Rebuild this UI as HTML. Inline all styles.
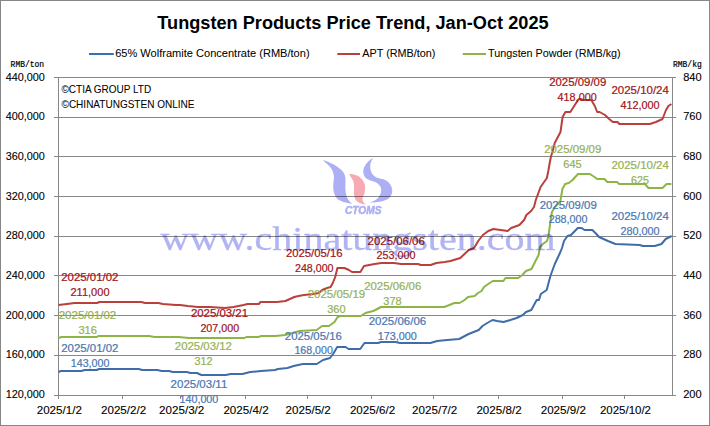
<!DOCTYPE html>
<html><head><meta charset="utf-8"><style>html,body{margin:0;padding:0;background:#fff;width:710px;height:426px;overflow:hidden}svg{display:block}</style></head><body><svg width="710" height="426" viewBox="0 0 710 426" font-family="Liberation Sans"><rect x="0.5" y="0.5" width="709" height="425" fill="#fff" stroke="#868686" stroke-width="1"/>
<g stroke="#878787" stroke-width="1" shape-rendering="crispEdges"><line x1="54" y1="77.5" x2="676" y2="77.5"/><line x1="54" y1="117.5" x2="676" y2="117.5"/><line x1="54" y1="156.5" x2="676" y2="156.5"/><line x1="54" y1="196.5" x2="676" y2="196.5"/><line x1="54" y1="236.5" x2="676" y2="236.5"/><line x1="54" y1="275.5" x2="676" y2="275.5"/><line x1="54" y1="315.5" x2="676" y2="315.5"/><line x1="54" y1="355.5" x2="676" y2="355.5"/><line x1="54" y1="395.5" x2="676" y2="395.5"/><line x1="58.5" y1="77" x2="58.5" y2="399"/><line x1="672.5" y1="77" x2="672.5" y2="395"/><line x1="122.5" y1="395" x2="122.5" y2="399"/><line x1="180.5" y1="395" x2="180.5" y2="399"/><line x1="245.5" y1="395" x2="245.5" y2="399"/><line x1="307.5" y1="395" x2="307.5" y2="399"/><line x1="371.5" y1="395" x2="371.5" y2="399"/><line x1="433.5" y1="395" x2="433.5" y2="399"/><line x1="498.5" y1="395" x2="498.5" y2="399"/><line x1="562.5" y1="395" x2="562.5" y2="399"/><line x1="624.5" y1="395" x2="624.5" y2="399"/></g>
<text x="5.7" y="81.0" textLength="39.2" lengthAdjust="spacingAndGlyphs" fill="#000" stroke="#000" stroke-width="0.1" font-family="Liberation Sans" font-size="10.5" >440,000</text>
<text x="5.7" y="120.0" textLength="39.2" lengthAdjust="spacingAndGlyphs" fill="#000" stroke="#000" stroke-width="0.1" font-family="Liberation Sans" font-size="10.5" >400,000</text>
<text x="5.7" y="160.0" textLength="39.2" lengthAdjust="spacingAndGlyphs" fill="#000" stroke="#000" stroke-width="0.1" font-family="Liberation Sans" font-size="10.5" >360,000</text>
<text x="5.7" y="200.0" textLength="39.2" lengthAdjust="spacingAndGlyphs" fill="#000" stroke="#000" stroke-width="0.1" font-family="Liberation Sans" font-size="10.5" >320,000</text>
<text x="5.7" y="239.0" textLength="39.2" lengthAdjust="spacingAndGlyphs" fill="#000" stroke="#000" stroke-width="0.1" font-family="Liberation Sans" font-size="10.5" >280,000</text>
<text x="5.7" y="279.0" textLength="39.2" lengthAdjust="spacingAndGlyphs" fill="#000" stroke="#000" stroke-width="0.1" font-family="Liberation Sans" font-size="10.5" >240,000</text>
<text x="5.7" y="319.0" textLength="39.2" lengthAdjust="spacingAndGlyphs" fill="#000" stroke="#000" stroke-width="0.1" font-family="Liberation Sans" font-size="10.5" >200,000</text>
<text x="5.7" y="358.0" textLength="39.2" lengthAdjust="spacingAndGlyphs" fill="#000" stroke="#000" stroke-width="0.1" font-family="Liberation Sans" font-size="10.5" >160,000</text>
<text x="5.7" y="398.0" textLength="39.2" lengthAdjust="spacingAndGlyphs" fill="#000" stroke="#000" stroke-width="0.1" font-family="Liberation Sans" font-size="10.5" >120,000</text>
<text x="683.2" y="81.0" textLength="18.5" lengthAdjust="spacingAndGlyphs" fill="#000" stroke="#000" stroke-width="0.1" font-family="Liberation Sans" font-size="10.5" >840</text>
<text x="683.2" y="120.0" textLength="18.5" lengthAdjust="spacingAndGlyphs" fill="#000" stroke="#000" stroke-width="0.1" font-family="Liberation Sans" font-size="10.5" >760</text>
<text x="683.2" y="160.0" textLength="18.5" lengthAdjust="spacingAndGlyphs" fill="#000" stroke="#000" stroke-width="0.1" font-family="Liberation Sans" font-size="10.5" >680</text>
<text x="683.2" y="200.0" textLength="18.5" lengthAdjust="spacingAndGlyphs" fill="#000" stroke="#000" stroke-width="0.1" font-family="Liberation Sans" font-size="10.5" >600</text>
<text x="683.2" y="239.0" textLength="18.5" lengthAdjust="spacingAndGlyphs" fill="#000" stroke="#000" stroke-width="0.1" font-family="Liberation Sans" font-size="10.5" >520</text>
<text x="683.2" y="279.0" textLength="18.5" lengthAdjust="spacingAndGlyphs" fill="#000" stroke="#000" stroke-width="0.1" font-family="Liberation Sans" font-size="10.5" >440</text>
<text x="683.2" y="319.0" textLength="18.5" lengthAdjust="spacingAndGlyphs" fill="#000" stroke="#000" stroke-width="0.1" font-family="Liberation Sans" font-size="10.5" >360</text>
<text x="683.2" y="358.0" textLength="18.5" lengthAdjust="spacingAndGlyphs" fill="#000" stroke="#000" stroke-width="0.1" font-family="Liberation Sans" font-size="10.5" >280</text>
<text x="683.2" y="398.0" textLength="18.5" lengthAdjust="spacingAndGlyphs" fill="#000" stroke="#000" stroke-width="0.1" font-family="Liberation Sans" font-size="10.5" >200</text>
<text x="36.7" y="413.8" textLength="45.2" lengthAdjust="spacingAndGlyphs" fill="#000" stroke="#000" stroke-width="0.1" font-family="Liberation Sans" font-size="10.5" >2025/1/2</text>
<text x="101.0" y="413.8" textLength="45.2" lengthAdjust="spacingAndGlyphs" fill="#000" stroke="#000" stroke-width="0.1" font-family="Liberation Sans" font-size="10.5" >2025/2/2</text>
<text x="159.1" y="413.8" textLength="45.2" lengthAdjust="spacingAndGlyphs" fill="#000" stroke="#000" stroke-width="0.1" font-family="Liberation Sans" font-size="10.5" >2025/3/2</text>
<text x="223.4" y="413.8" textLength="45.2" lengthAdjust="spacingAndGlyphs" fill="#000" stroke="#000" stroke-width="0.1" font-family="Liberation Sans" font-size="10.5" >2025/4/2</text>
<text x="285.6" y="413.8" textLength="45.2" lengthAdjust="spacingAndGlyphs" fill="#000" stroke="#000" stroke-width="0.1" font-family="Liberation Sans" font-size="10.5" >2025/5/2</text>
<text x="349.9" y="413.8" textLength="45.2" lengthAdjust="spacingAndGlyphs" fill="#000" stroke="#000" stroke-width="0.1" font-family="Liberation Sans" font-size="10.5" >2025/6/2</text>
<text x="412.1" y="413.8" textLength="45.2" lengthAdjust="spacingAndGlyphs" fill="#000" stroke="#000" stroke-width="0.1" font-family="Liberation Sans" font-size="10.5" >2025/7/2</text>
<text x="476.4" y="413.8" textLength="45.2" lengthAdjust="spacingAndGlyphs" fill="#000" stroke="#000" stroke-width="0.1" font-family="Liberation Sans" font-size="10.5" >2025/8/2</text>
<text x="540.7" y="413.8" textLength="45.2" lengthAdjust="spacingAndGlyphs" fill="#000" stroke="#000" stroke-width="0.1" font-family="Liberation Sans" font-size="10.5" >2025/9/2</text>
<text x="599.9" y="413.8" textLength="51.1" lengthAdjust="spacingAndGlyphs" fill="#000" stroke="#000" stroke-width="0.1" font-family="Liberation Sans" font-size="10.5" >2025/10/2</text>
<text x="10.6" y="66.7" textLength="33.5" lengthAdjust="spacingAndGlyphs" fill="#000" stroke="#000" stroke-width="0.2" font-family="Liberation Mono" font-size="8.5" >RMB/ton</text>
<text x="673.0" y="66.7" textLength="28.7" lengthAdjust="spacingAndGlyphs" fill="#000" stroke="#000" stroke-width="0.2" font-family="Liberation Mono" font-size="8.5" >RMB/kg</text>
<text x="157.3" y="29.0" textLength="391.3" lengthAdjust="spacingAndGlyphs" fill="#000" font-family="Liberation Sans" font-size="18" font-weight="bold">Tungsten Products Price Trend, Jan-Oct 2025</text>
<line x1="89" y1="54" x2="113.8" y2="54" stroke="#3671B2" stroke-width="2"/>
<text x="115.2" y="56.8" textLength="194.4" lengthAdjust="spacingAndGlyphs" fill="#000" stroke="#000" stroke-width="0.05" font-family="Liberation Sans" font-size="11" >65% Wolframite Concentrate (RMB/ton)</text>
<line x1="337.4" y1="54" x2="360" y2="54" stroke="#B9403B" stroke-width="2"/>
<text x="362.3" y="56.8" textLength="73.1" lengthAdjust="spacingAndGlyphs" fill="#000" stroke="#000" stroke-width="0.05" font-family="Liberation Sans" font-size="11" >APT (RMB/ton)</text>
<line x1="462.7" y1="54" x2="486" y2="54" stroke="#8DB545" stroke-width="2"/>
<text x="488.1" y="56.8" textLength="132.5" lengthAdjust="spacingAndGlyphs" fill="#000" stroke="#000" stroke-width="0.05" font-family="Liberation Sans" font-size="11" >Tungsten Powder (RMB/kg)</text>
<text x="61.5" y="93.4" textLength="89.6" lengthAdjust="spacingAndGlyphs" fill="#000" stroke="#000" stroke-width="0.05" font-family="Liberation Sans" font-size="11" >©CTIA GROUP LTD</text>
<text x="61.5" y="107.6" textLength="133.0" lengthAdjust="spacingAndGlyphs" fill="#000" stroke="#000" stroke-width="0.05" font-family="Liberation Sans" font-size="11" >©CHINATUNGSTEN ONLINE</text>
<path d="M58.5,372 L61.0,371 L81.4,371 L84.7,370 L96.6,370 L99.1,369 L138.8,369 L142.2,370 L157.4,370 L161.6,371 L169.2,371 L172.6,372 L186.9,372 L190.3,373 L197.0,373 L201.3,375 L225.8,375 L230.8,374 L242.4,374 L250.2,372 L261.0,371 L275.0,370 L278.0,369 L287.4,368 L293.6,366 L298.2,365 L302.9,364 L316.8,364 L323.0,360 L330.0,358 L333.1,354 L337.2,347 L345.6,347 L348.6,349 L360.2,349 L364.5,343 L378.3,343 L380.9,342 L395.6,342 L400.0,343 L430.4,343 L437.2,341 L447.3,340 L459.2,339 L468.6,334 L478.7,330 L482.5,326 L487.2,323 L492.6,320 L497.0,321 L503.5,322 L510.4,320 L516.6,318 L522.8,315 L526.0,312 L531.3,310 L536.7,300 L539.0,300 L540.8,294 L546.7,290 L550.4,276 L554.8,264 L560.4,252 L562.0,248 L564.0,241 L567.5,236 L571.0,235 L577.8,228 L581.5,228 L584.6,230 L592.4,230 L596.4,234 L599.0,237 L608.0,241 L615.4,244 L639.7,245 L642.9,246 L654.7,246 L661.5,244 L665.7,239 L671.6,236" fill="none" stroke="#416CAA" stroke-width="2" stroke-linejoin="round" stroke-linecap="butt"/>
<path d="M58.5,305 L66.9,304 L74.6,303 L97.1,303 L99.4,302 L141.3,302 L145.1,303 L158.3,303 L163.0,304 L176.0,305 L180.0,305 L187.8,306 L198.0,307 L209.8,307 L225.0,308 L233.5,307 L243.6,305 L247.6,304 L258.8,304 L260.5,302 L277.0,302 L285.4,301 L294.3,297 L298.5,296 L304.0,295 L313.5,294 L318.7,293 L322.2,290 L327.1,288 L330.6,287 L332.8,283 L335.2,277 L337.4,268 L344.4,268 L348.9,270 L352.0,272 L360.4,272 L364.0,266 L374.5,264 L381.5,263 L394.0,263 L401.0,264 L418.0,264 L420.8,265 L430.7,265 L436.3,263 L444.8,262 L450.4,261 L460.3,258 L464.5,254 L468.7,250 L474.1,248 L478.2,241 L482.9,235 L488.2,231 L493.5,229 L500.6,230 L507.6,231 L511.1,228 L519.4,225 L524.1,220 L526.4,215 L531.1,211 L534.0,207 L535.8,200 L540.6,187 L546.9,178 L548.3,171 L549.7,163 L551.1,156 L552.5,152 L554.7,143 L560.5,132 L562.6,117 L565.4,112 L570.4,112 L576.7,102 L578.8,99 L580.6,99 L583.4,100 L591.3,100 L594.8,106 L597.2,112 L599.6,112 L605.0,115 L609.2,119 L612.8,122 L617.5,122 L619.3,124 L649.9,124 L655.9,122 L662.5,119 L666.0,110 L668.4,106 L671.4,104" fill="none" stroke="#B9403B" stroke-width="2" stroke-linejoin="round" stroke-linecap="butt"/>
<path d="M58.5,338 L61.6,337 L96.8,337 L98.3,336 L149.0,336 L154.6,337 L178.7,337 L188.9,338 L244.6,338 L246.3,337 L258.2,337 L261.5,336 L275.6,336 L285.0,335 L296.0,332 L299.6,331 L316.7,330 L322.1,326 L329.0,326 L334.5,322 L337.6,317 L340.5,316 L360.8,316 L365.4,313 L373.2,311 L375.3,310 L380.9,307 L444.3,307 L449.4,305 L454.4,303 L459.5,303 L464.6,300 L468.0,297 L474.7,296 L478.0,293 L481.5,291 L484.0,287 L488.2,284 L492.8,281 L503.4,281 L505.5,278 L518.2,278 L522.4,275 L525.9,271 L531.5,269 L535.0,262 L538.6,255 L540.0,247 L542.8,244 L547.0,241 L548.5,236 L550.2,223 L551.9,212 L555.8,206 L560.4,201 L562.4,189 L565.1,184 L568.8,183 L572.5,180 L578.0,174 L589.9,174 L594.5,177 L597.2,179 L604.5,179 L607.3,182 L617.0,182 L619.2,184 L645.0,184 L648.5,188 L662.5,188 L666.6,184 L671.4,184" fill="none" stroke="#8DB545" stroke-width="2" stroke-linejoin="round" stroke-linecap="butt"/>
<text x="61.2" y="280.8" textLength="57.2" lengthAdjust="spacingAndGlyphs" fill="#A01419" stroke="#A01419" stroke-width="0.2" font-family="Liberation Sans" font-size="10.5" >2025/01/02</text>
<text x="70.4" y="295.7" textLength="39.2" lengthAdjust="spacingAndGlyphs" fill="#A01419" stroke="#A01419" stroke-width="0.2" font-family="Liberation Sans" font-size="10.5" >211,000</text>
<text x="58.7" y="318.7" textLength="57.6" lengthAdjust="spacingAndGlyphs" fill="#95B155" stroke="#95B155" stroke-width="0.2" font-family="Liberation Sans" font-size="10.5" >2025/01/02</text>
<text x="78.4" y="333.5" textLength="18.6" lengthAdjust="spacingAndGlyphs" fill="#95B155" stroke="#95B155" stroke-width="0.2" font-family="Liberation Sans" font-size="10.5" >316</text>
<text x="61.2" y="351.8" textLength="57.2" lengthAdjust="spacingAndGlyphs" fill="#4A76B3" stroke="#4A76B3" stroke-width="0.2" font-family="Liberation Sans" font-size="10.5" >2025/01/02</text>
<text x="70.8" y="366.8" textLength="38.6" lengthAdjust="spacingAndGlyphs" fill="#4A76B3" stroke="#4A76B3" stroke-width="0.2" font-family="Liberation Sans" font-size="10.5" >143,000</text>
<text x="190.9" y="316.7" textLength="57.1" lengthAdjust="spacingAndGlyphs" fill="#A01419" stroke="#A01419" stroke-width="0.2" font-family="Liberation Sans" font-size="10.5" >2025/03/21</text>
<text x="200.4" y="331.5" textLength="38.8" lengthAdjust="spacingAndGlyphs" fill="#A01419" stroke="#A01419" stroke-width="0.2" font-family="Liberation Sans" font-size="10.5" >207,000</text>
<text x="174.8" y="349.8" textLength="57.1" lengthAdjust="spacingAndGlyphs" fill="#95B155" stroke="#95B155" stroke-width="0.2" font-family="Liberation Sans" font-size="10.5" >2025/03/12</text>
<text x="194.5" y="364.9" textLength="18.0" lengthAdjust="spacingAndGlyphs" fill="#95B155" stroke="#95B155" stroke-width="0.2" font-family="Liberation Sans" font-size="10.5" >312</text>
<text x="170.6" y="388.0" textLength="56.7" lengthAdjust="spacingAndGlyphs" fill="#4A76B3" stroke="#4A76B3" stroke-width="0.2" font-family="Liberation Sans" font-size="10.5" >2025/03/11</text>
<text x="179.5" y="402.8" textLength="38.8" lengthAdjust="spacingAndGlyphs" fill="#4A76B3" stroke="#4A76B3" stroke-width="0.2" font-family="Liberation Sans" font-size="10.5" >140,000</text>
<text x="285.9" y="256.9" textLength="56.6" lengthAdjust="spacingAndGlyphs" fill="#A01419" stroke="#A01419" stroke-width="0.2" font-family="Liberation Sans" font-size="10.5" >2025/05/16</text>
<text x="295.0" y="271.5" textLength="38.5" lengthAdjust="spacingAndGlyphs" fill="#A01419" stroke="#A01419" stroke-width="0.2" font-family="Liberation Sans" font-size="10.5" >248,000</text>
<text x="307.7" y="298.0" textLength="57.5" lengthAdjust="spacingAndGlyphs" fill="#95B155" stroke="#95B155" stroke-width="0.2" font-family="Liberation Sans" font-size="10.5" >2025/05/19</text>
<text x="327.2" y="312.7" textLength="18.3" lengthAdjust="spacingAndGlyphs" fill="#95B155" stroke="#95B155" stroke-width="0.2" font-family="Liberation Sans" font-size="10.5" >360</text>
<text x="284.8" y="339.7" textLength="57.1" lengthAdjust="spacingAndGlyphs" fill="#4A76B3" stroke="#4A76B3" stroke-width="0.2" font-family="Liberation Sans" font-size="10.5" >2025/05/16</text>
<text x="294.4" y="354.4" textLength="38.5" lengthAdjust="spacingAndGlyphs" fill="#4A76B3" stroke="#4A76B3" stroke-width="0.2" font-family="Liberation Sans" font-size="10.5" >168,000</text>
<text x="367.6" y="244.7" textLength="57.2" lengthAdjust="spacingAndGlyphs" fill="#A01419" stroke="#A01419" stroke-width="0.2" font-family="Liberation Sans" font-size="10.5" >2025/06/06</text>
<text x="376.6" y="259.4" textLength="38.9" lengthAdjust="spacingAndGlyphs" fill="#A01419" stroke="#A01419" stroke-width="0.2" font-family="Liberation Sans" font-size="10.5" >253,000</text>
<text x="364.2" y="289.6" textLength="57.1" lengthAdjust="spacingAndGlyphs" fill="#95B155" stroke="#95B155" stroke-width="0.2" font-family="Liberation Sans" font-size="10.5" >2025/06/06</text>
<text x="383.3" y="304.5" textLength="18.3" lengthAdjust="spacingAndGlyphs" fill="#95B155" stroke="#95B155" stroke-width="0.2" font-family="Liberation Sans" font-size="10.5" >378</text>
<text x="368.7" y="324.6" textLength="57.5" lengthAdjust="spacingAndGlyphs" fill="#4A76B3" stroke="#4A76B3" stroke-width="0.2" font-family="Liberation Sans" font-size="10.5" >2025/06/06</text>
<text x="377.7" y="339.9" textLength="39.1" lengthAdjust="spacingAndGlyphs" fill="#4A76B3" stroke="#4A76B3" stroke-width="0.2" font-family="Liberation Sans" font-size="10.5" >173,000</text>
<text x="549.2" y="85.8" textLength="57.1" lengthAdjust="spacingAndGlyphs" fill="#A01419" stroke="#A01419" stroke-width="0.2" font-family="Liberation Sans" font-size="10.5" >2025/09/09</text>
<text x="557.6" y="101.0" textLength="39.1" lengthAdjust="spacingAndGlyphs" fill="#A01419" stroke="#A01419" stroke-width="0.2" font-family="Liberation Sans" font-size="10.5" >418,000</text>
<text x="544.2" y="152.8" textLength="57.1" lengthAdjust="spacingAndGlyphs" fill="#95B155" stroke="#95B155" stroke-width="0.2" font-family="Liberation Sans" font-size="10.5" >2025/09/09</text>
<text x="563.3" y="167.7" textLength="18.3" lengthAdjust="spacingAndGlyphs" fill="#95B155" stroke="#95B155" stroke-width="0.2" font-family="Liberation Sans" font-size="10.5" >645</text>
<text x="539.7" y="208.7" textLength="57.1" lengthAdjust="spacingAndGlyphs" fill="#4A76B3" stroke="#4A76B3" stroke-width="0.2" font-family="Liberation Sans" font-size="10.5" >2025/09/09</text>
<text x="548.7" y="223.4" textLength="38.8" lengthAdjust="spacingAndGlyphs" fill="#4A76B3" stroke="#4A76B3" stroke-width="0.2" font-family="Liberation Sans" font-size="10.5" >288,000</text>
<text x="611.4" y="94.1" textLength="57.5" lengthAdjust="spacingAndGlyphs" fill="#A01419" stroke="#A01419" stroke-width="0.2" font-family="Liberation Sans" font-size="10.5" >2025/10/24</text>
<text x="620.4" y="108.7" textLength="39.2" lengthAdjust="spacingAndGlyphs" fill="#A01419" stroke="#A01419" stroke-width="0.2" font-family="Liberation Sans" font-size="10.5" >412,000</text>
<text x="611.4" y="168.9" textLength="57.5" lengthAdjust="spacingAndGlyphs" fill="#95B155" stroke="#95B155" stroke-width="0.2" font-family="Liberation Sans" font-size="10.5" >2025/10/24</text>
<text x="631.1" y="183.6" textLength="18.0" lengthAdjust="spacingAndGlyphs" fill="#95B155" stroke="#95B155" stroke-width="0.2" font-family="Liberation Sans" font-size="10.5" >625</text>
<text x="611.4" y="219.7" textLength="57.5" lengthAdjust="spacingAndGlyphs" fill="#4A76B3" stroke="#4A76B3" stroke-width="0.2" font-family="Liberation Sans" font-size="10.5" >2025/10/24</text>
<text x="620.4" y="235.2" textLength="39.2" lengthAdjust="spacingAndGlyphs" fill="#4A76B3" stroke="#4A76B3" stroke-width="0.2" font-family="Liberation Sans" font-size="10.5" >280,000</text>
<defs><filter id="bl" x="-5%" y="-20%" width="110%" height="140%"><feGaussianBlur stdDeviation="0.45"/></filter></defs>
<g style="mix-blend-mode:multiply"><text x="160.5" y="250.3" textLength="395" lengthAdjust="spacingAndGlyphs" font-family="Liberation Serif" font-size="33" fill="#B0B3F4" stroke="#B0B3F4" stroke-width="0.3" filter="url(#bl)">www.chinatungsten.com</text><path d="M322.9,159.9 C329,161.5 338,166 342.4,170.9 C345,174 345.6,177 345.5,181 C345.4,185 345.2,190 345.8,193 C346.5,198 349,201.5 352.1,203.8 C346,203 340,201 337.5,198.9 C334.5,196 333.3,192 333.2,187 C333.1,183 334.2,179.5 333.9,176 C333.5,171.5 331,167 327.1,164.1 C325.5,162.5 324,161 322.9,159.9 Z" fill="#ADAFF4"/><path d="M349.2,174.1 C351,174.2 353.5,174.5 355.3,175 C358.5,176 360.5,177.5 361.9,179.2 C364,182 365.2,184.5 365.1,187 C365,190 364.8,192 364.5,193.5 C364,195.5 362.5,197 362.4,199 C362.4,201.5 364,203.5 366.1,204.6 C363.5,204.3 361.2,203.6 359.1,202.7 C357,201.5 355.5,200 354.8,198 C354,195.5 353.9,193.5 353.9,191.4 C353.9,188.5 354.2,186.2 353.9,183.9 C353.6,181.5 352.8,179.8 351.6,178.3 C350.8,177 350,175.5 349.2,174.1 Z" fill="#F8AAB4"/><path d="M373.8,157.8 C371.5,160 370.3,163 370.2,166 C370,170 371.5,174 374.5,176.2 C377,178 380,178.7 383.3,179.3 C387,180.5 390.5,183.5 391.8,188 C393,192.5 391.5,196.5 388,199 C384,201.5 376,202.5 369.4,202.7 C374,201.2 377,199.5 378.8,197 C381,194 381.8,190.5 381,188 C380,185 377.5,183 374.5,181.8 C370,180.5 366,179 364.6,176.5 C362.8,173.5 362.8,169.5 364.5,166.5 C366.5,162.5 370,159.5 373.8,157.8 Z" fill="#ADAFF4"/><text x="345" y="213.7" textLength="36.5" lengthAdjust="spacingAndGlyphs" font-family="Liberation Sans" font-weight="bold" font-style="italic" font-size="10.3" fill="#ADAFF4" stroke="#ADAFF4" stroke-width="0.5" filter="url(#bl)">CTOMS</text></g></svg></body></html>
